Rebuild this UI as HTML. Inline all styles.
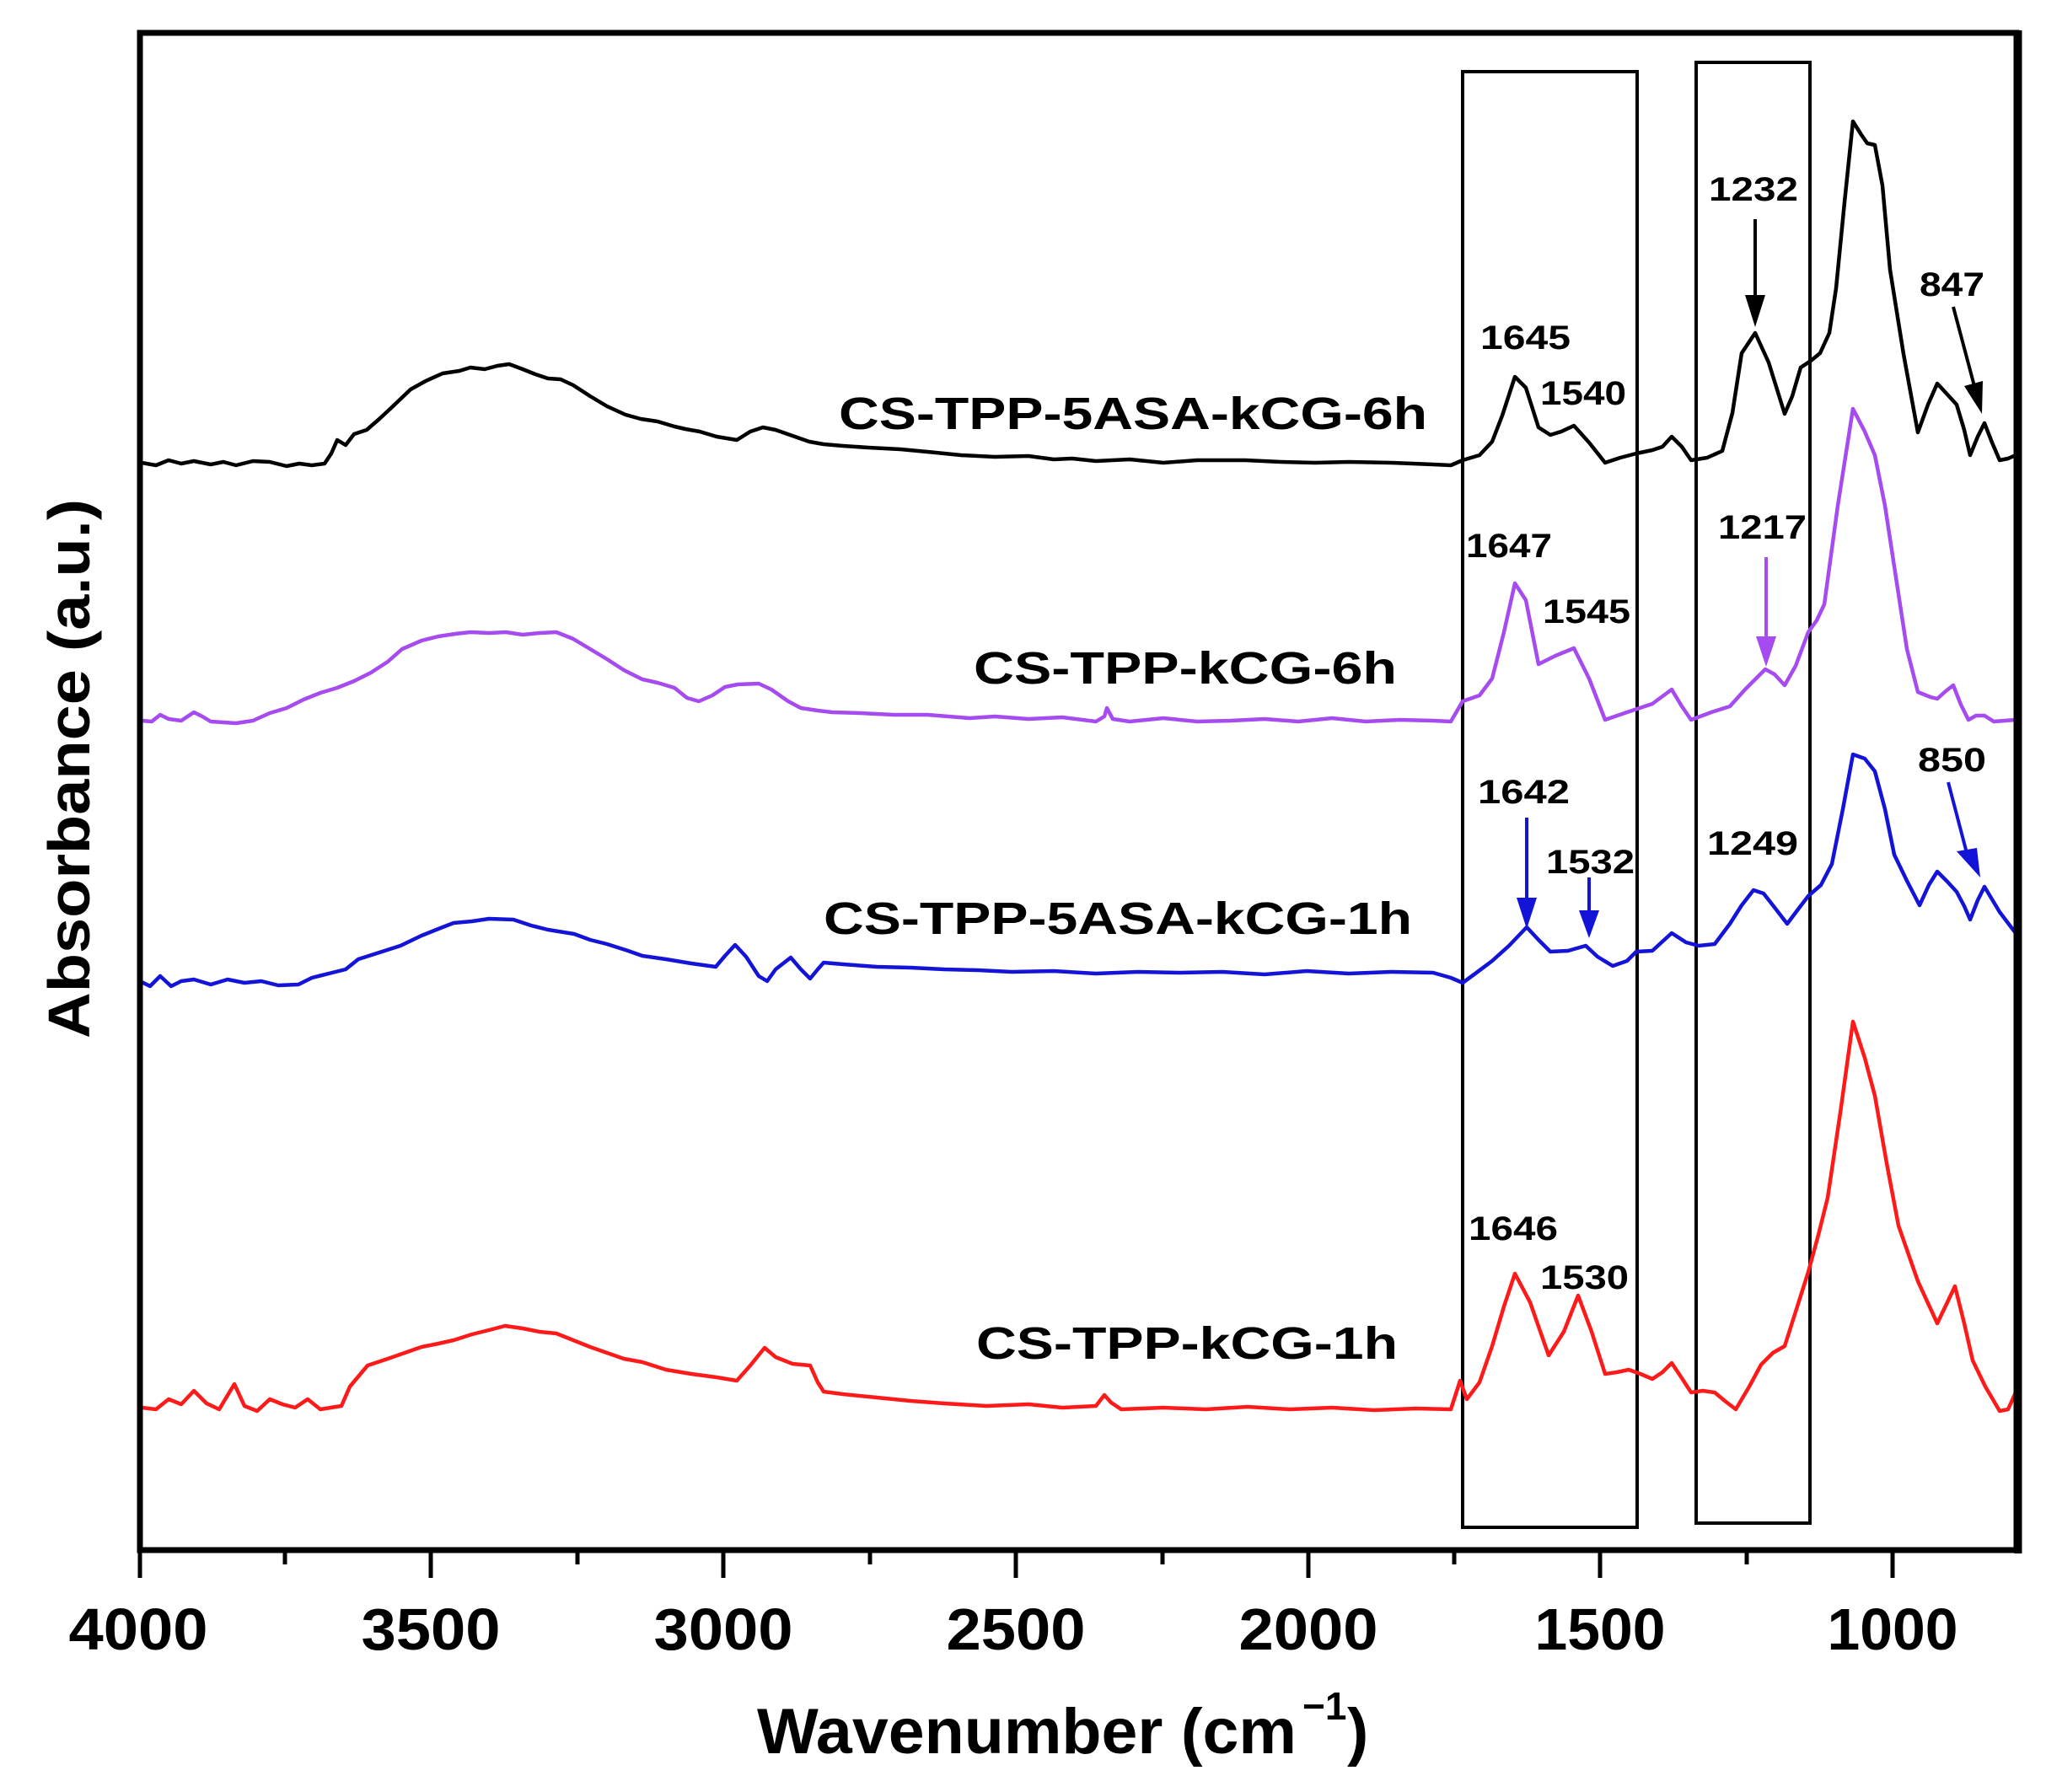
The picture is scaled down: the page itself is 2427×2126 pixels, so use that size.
<!DOCTYPE html>
<html><head><meta charset="utf-8"><style>
html,body{margin:0;padding:0;background:#fff;}
svg{display:block;}
text{font-family:"Liberation Sans",Arial,sans-serif;font-weight:bold;}
</style></head><body>
<svg width="2427" height="2126" viewBox="0 0 2427 2126" xmlns="http://www.w3.org/2000/svg">
<defs><clipPath id="c"><rect x="168" y="40" width="2224" height="1798"/></clipPath></defs>
<rect x="0" y="0" width="2427" height="2126" fill="#fff"/>

<!-- inner boxes -->
<rect x="1735" y="85" width="207" height="1727" fill="none" stroke="#000" stroke-width="4"/>
<rect x="2012" y="74" width="135" height="1733" fill="none" stroke="#000" stroke-width="4"/>

<g fill="none" stroke-width="4.5" stroke-linejoin="round" stroke-linecap="round" clip-path="url(#c)">
<!-- black -->
<polyline stroke="#000" points="168,549 185,552 200,546 215,550 230,547 250,551 265,548 280,552 300,547 320,548 340,553 355,550 370,552 385,550 393,538 400,522 410,528 420,515 435,510 450,497 465,483 487,462 505,452 525,443 545,440 558,436 575,438 590,434 604,432 620,438 635,444 650,449 665,450 680,457 700,470 720,482 742,492 760,497 780,500 800,506 813,509 830,512 850,518 874,522 890,512 905,507 920,510 940,517 960,524 977,527 1000,529 1030,531 1068,533 1100,536 1140,540 1180,542 1220,541 1250,545 1272,544 1300,547 1340,545 1380,549 1420,546 1477,546 1520,548 1560,549 1600,548 1650,549 1700,551 1721,552 1735,546 1755,540 1770,524 1782,493 1797,447 1810,460 1825,507 1839,516 1852,512 1867,505 1885,525 1904,549 1922,543 1941,538 1960,534 1972,530 1983,518 1995,530 2006,546 2025,543 2043,535 2055,490 2066,419 2082,395 2098,430 2117,491 2126,470 2136,436 2148,428 2159,419 2170,395 2178,342 2188,240 2198,144 2208,160 2215,170 2224,172 2233,220 2242,320 2258,420 2275,513 2287,480 2298,455 2310,468 2321,480 2330,510 2337,540 2346,518 2354,502 2363,525 2372,546 2382,544 2391,540"/>
<!-- purple -->
<polyline stroke="#a64bef" points="168,855 180,856 190,848 200,853 215,855 230,845 240,850 250,856 265,857 280,858 300,855 320,846 340,840 360,830 380,822 400,816 420,808 440,798 460,785 477,770 500,760 520,755 540,752 558,750 580,751 600,750 620,753 640,751 660,750 680,758 700,770 720,782 740,795 762,806 780,810 800,816 815,828 829,832 845,825 860,815 875,812 900,811 915,818 935,832 950,840 970,843 987,845 1020,846 1060,848 1100,848 1150,852 1180,850 1220,853 1260,851 1300,856 1310,850 1313,840 1320,853 1340,856 1380,852 1420,856 1460,855 1500,853 1540,856 1580,852 1620,856 1660,854 1700,855 1721,856 1735,832 1755,825 1770,805 1784,750 1797,692 1810,712 1825,788 1845,778 1867,769 1885,805 1904,854 1930,845 1960,835 1983,818 1995,838 2006,854 2030,845 2052,838 2070,818 2094,794 2105,800 2117,813 2130,790 2145,750 2155,736 2164,717 2180,600 2198,485 2212,512 2224,540 2236,600 2247,672 2262,770 2275,821 2290,827 2298,829 2308,820 2317,813 2326,836 2335,854 2344,849 2354,849 2365,856 2391,854"/>
<!-- blue -->
<polyline stroke="#1414d8" points="168,1165 178,1170 190,1158 203,1170 215,1164 230,1162 250,1168 270,1162 290,1166 310,1164 330,1169 354,1168 370,1160 390,1155 410,1150 425,1138 450,1130 475,1122 500,1110 520,1102 538,1095 560,1093 580,1090 609,1091 630,1098 650,1103 681,1108 700,1115 720,1120 745,1128 762,1134 790,1138 820,1143 849,1147 860,1134 872,1121 885,1135 900,1158 910,1164 920,1150 938,1136 950,1150 961,1161 970,1150 977,1142 1000,1144 1040,1147 1080,1148 1120,1150 1160,1151 1200,1153 1250,1152 1300,1155 1350,1153 1400,1154 1450,1153 1500,1156 1550,1152 1600,1155 1650,1153 1700,1154 1721,1160 1735,1166 1750,1155 1770,1140 1790,1122 1811,1100 1825,1115 1839,1129 1860,1128 1881,1122 1895,1135 1913,1146 1930,1140 1941,1129 1960,1128 1983,1107 2000,1118 2015,1122 2034,1120 2052,1096 2066,1074 2080,1056 2092,1060 2103,1074 2120,1096 2132,1080 2145,1063 2160,1050 2173,1025 2186,960 2198,895 2212,900 2224,915 2236,960 2247,1014 2262,1045 2277,1074 2288,1050 2298,1034 2310,1046 2321,1058 2330,1075 2337,1091 2346,1068 2354,1052 2372,1082 2391,1107"/>
<!-- red -->
<polyline stroke="#ff1a1a" points="168,1670 185,1672 200,1660 215,1666 230,1650 245,1665 260,1672 278,1642 290,1668 305,1674 320,1660 335,1666 350,1670 365,1660 380,1672 405,1668 415,1645 436,1620 460,1612 480,1605 500,1598 520,1594 538,1590 560,1583 580,1578 599,1573 620,1576 640,1580 660,1582 680,1590 700,1598 720,1605 740,1612 762,1616 790,1625 820,1630 850,1634 874,1638 890,1620 907,1599 920,1610 940,1618 961,1620 970,1640 977,1651 1000,1654 1040,1658 1080,1662 1120,1665 1170,1668 1220,1666 1260,1670 1300,1668 1310,1655 1318,1664 1330,1672 1380,1670 1430,1672 1480,1669 1530,1672 1580,1670 1630,1673 1680,1671 1721,1672 1732,1638 1740,1660 1755,1640 1770,1597 1784,1550 1797,1511 1815,1545 1837,1608 1855,1580 1872,1537 1888,1580 1904,1630 1918,1628 1932,1625 1946,1630 1960,1636 1972,1628 1983,1617 1995,1635 2006,1652 2020,1650 2034,1652 2046,1662 2059,1672 2075,1645 2089,1619 2103,1605 2117,1597 2132,1550 2145,1509 2157,1465 2168,1421 2183,1320 2198,1212 2212,1255 2224,1300 2238,1380 2252,1454 2275,1520 2298,1570 2310,1545 2319,1526 2330,1570 2340,1614 2355,1645 2372,1674 2382,1672 2391,1652"/>
</g>

<!-- frame -->
<path d="M166,39 L2392,39 L2392,1839 L166,1839 Z" fill="none" stroke="#000" stroke-width="7"/>
<line x1="2394" y1="36" x2="2394" y2="1843" stroke="#000" stroke-width="9"/>
<!-- ticks -->
<g stroke="#000" stroke-width="5">
<line x1="166" y1="1842" x2="166" y2="1872"/>
<line x1="511" y1="1842" x2="511" y2="1872"/>
<line x1="858" y1="1842" x2="858" y2="1872"/>
<line x1="1205" y1="1842" x2="1205" y2="1872"/>
<line x1="1552" y1="1842" x2="1552" y2="1872"/>
<line x1="1898" y1="1842" x2="1898" y2="1872"/>
<line x1="2245" y1="1842" x2="2245" y2="1872"/>
<line x1="338" y1="1842" x2="338" y2="1856"/>
<line x1="685" y1="1842" x2="685" y2="1856"/>
<line x1="1032" y1="1842" x2="1032" y2="1856"/>
<line x1="1379" y1="1842" x2="1379" y2="1856"/>
<line x1="1725" y1="1842" x2="1725" y2="1856"/>
<line x1="2072" y1="1842" x2="2072" y2="1856"/>
</g>
<g font-size="70" text-anchor="middle">
<text x="164" y="1957" textLength="165" lengthAdjust="spacingAndGlyphs">4000</text>
<text x="511" y="1957" textLength="165" lengthAdjust="spacingAndGlyphs">3500</text>
<text x="858" y="1957" textLength="165" lengthAdjust="spacingAndGlyphs">3000</text>
<text x="1205" y="1957" textLength="165" lengthAdjust="spacingAndGlyphs">2500</text>
<text x="1552" y="1957" textLength="165" lengthAdjust="spacingAndGlyphs">2000</text>
<text x="1898" y="1957" textLength="155" lengthAdjust="spacingAndGlyphs">1500</text>
<text x="2245" y="1957" textLength="155" lengthAdjust="spacingAndGlyphs">1000</text>
</g>
<text x="898" y="2080" font-size="76" textLength="640" lengthAdjust="spacingAndGlyphs">Wavenumber (cm</text>
<text x="1545" y="2040" font-size="46">−1</text>
<text x="1598" y="2080" font-size="76">)</text>
<text transform="translate(106,1232) rotate(-90)" font-size="70" textLength="640" lengthAdjust="spacingAndGlyphs">Absorbance (a.u.)</text>

<!-- series names -->
<g font-size="54">
<text x="995" y="509" textLength="698" lengthAdjust="spacingAndGlyphs">CS-TPP-5ASA-kCG-6h</text>
<text x="1155" y="811" textLength="502" lengthAdjust="spacingAndGlyphs">CS-TPP-kCG-6h</text>
<text x="977" y="1108" textLength="698" lengthAdjust="spacingAndGlyphs">CS-TPP-5ASA-kCG-1h</text>
<text x="1158" y="1612" textLength="500" lengthAdjust="spacingAndGlyphs">CS-TPP-kCG-1h</text>
</g>
<!-- peak labels -->
<g font-size="40">
<text x="1756" y="414" textLength="107" lengthAdjust="spacingAndGlyphs">1645</text>
<text x="1827" y="480" textLength="102" lengthAdjust="spacingAndGlyphs">1540</text>
<text x="2027" y="238" textLength="106" lengthAdjust="spacingAndGlyphs">1232</text>
<text x="2277" y="351" textLength="77" lengthAdjust="spacingAndGlyphs">847</text>
<text x="1739" y="661" textLength="102" lengthAdjust="spacingAndGlyphs">1647</text>
<text x="1830" y="739" textLength="104" lengthAdjust="spacingAndGlyphs">1545</text>
<text x="2038" y="639" textLength="105" lengthAdjust="spacingAndGlyphs">1217</text>
<text x="1753" y="953" textLength="109" lengthAdjust="spacingAndGlyphs">1642</text>
<text x="1834" y="1036" textLength="105" lengthAdjust="spacingAndGlyphs">1532</text>
<text x="2025" y="1014" textLength="108" lengthAdjust="spacingAndGlyphs">1249</text>
<text x="2275" y="915" textLength="81" lengthAdjust="spacingAndGlyphs">850</text>
<text x="1742" y="1471" textLength="106" lengthAdjust="spacingAndGlyphs">1646</text>
<text x="1827" y="1529" textLength="105" lengthAdjust="spacingAndGlyphs">1530</text>
</g>
<!-- arrows -->
<g stroke-width="4">
<line x1="2082" y1="260" x2="2082" y2="355" stroke="#000"/>
<polygon points="2070,350 2094,350 2082,388" fill="#000"/>
<line x1="2317" y1="364" x2="2342" y2="458" stroke="#000"/>
<polygon points="2330,458 2352,452 2351,491" fill="#000"/>
<line x1="2095" y1="661" x2="2095" y2="760" stroke="#a64bef"/>
<polygon points="2083,755 2107,755 2095,791" fill="#a64bef"/>
<line x1="1811" y1="970" x2="1811" y2="1070" stroke="#1414d8"/>
<polygon points="1799,1065 1823,1065 1811,1102" fill="#1414d8"/>
<line x1="1885" y1="1041" x2="1885" y2="1085" stroke="#1414d8"/>
<polygon points="1873,1080 1897,1080 1885,1113" fill="#1414d8"/>
<line x1="2311" y1="928" x2="2333" y2="1012" stroke="#1414d8"/>
<polygon points="2321,1010 2345,1006 2349,1041" fill="#1414d8"/>
</g>
</svg>
</body></html>
